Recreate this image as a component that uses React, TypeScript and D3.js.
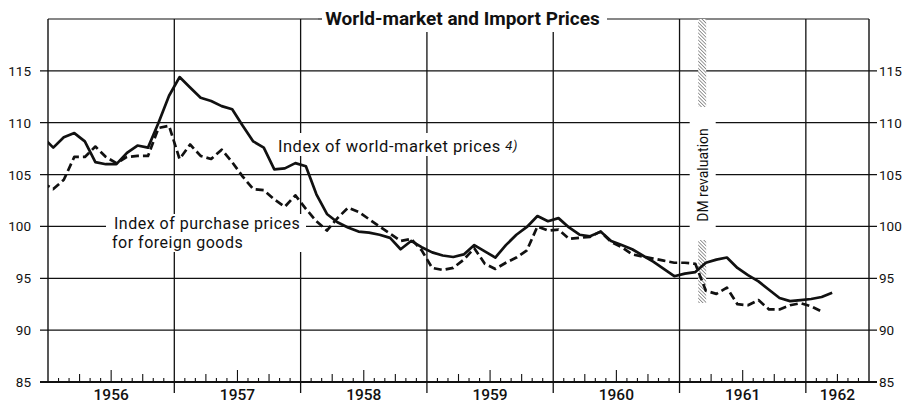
import React from "react";
import * as d3 from "d3";

// Monthly series, first value = Dec 1955 (month index -1)
const startMonth = -1;
const worldMarket = [
  108.6, 107.6, 108.6, 109.0, 108.2, 106.2, 106.0, 106.0, 107.1, 107.8, 107.6, 110.0, 112.6,
  114.4, 113.4, 112.4, 112.1, 111.6, 111.3, 109.7, 108.2, 107.6, 105.5, 105.6, 106.1,
  105.8, 103.1, 101.2, 100.4, 99.9, 99.5, 99.4, 99.2, 98.9, 97.8, 98.6, 98.0,
  97.5, 97.2, 97.05, 97.3, 98.2, 97.6, 97.0, 98.2, 99.2, 99.95, 101.0, 100.5,
  100.8, 99.9, 99.2, 99.05, 99.5, 98.6, 98.2, 97.8, 97.2, 96.6, 95.9, 95.2,
  95.45, 95.6, 96.5, 96.8, 97.0, 96.0, 95.3, 94.7, 93.9, 93.1, 92.8, 92.9,
  93.0, 93.2, 93.6,
];
const purchasePrices = [
  104.2, 103.6, 104.5, 106.7, 106.7, 107.7, 106.7, 106.1, 106.7, 106.8, 106.8, 109.5, 109.7,
  106.5, 107.9, 106.8, 106.5, 107.4, 106.2, 104.8, 103.6, 103.5, 102.6, 101.9, 103.0,
  101.7, 100.5, 99.6, 100.8, 101.8, 101.4, 100.7, 100.0, 99.3, 98.6, 98.8, 97.7,
  96.0, 95.8, 96.0, 96.8, 97.9, 96.4, 95.9, 96.5, 97.0, 97.7, 100.0, 99.6,
  99.7, 98.8, 98.9, 99.0, 99.5, 98.5, 98.0, 97.3, 97.1, 96.9, 96.7, 96.5,
  96.5, 96.4, 93.8, 93.5, 94.1, 92.5, 92.4, 92.9, 92.0, 92.0, 92.4, 92.6,
  92.3, 91.8,
];
const yearLabels = ["1956", "1957", "1958", "1959", "1960", "1961", "1962"];
const yTicks = [85, 90, 95, 100, 105, 110, 115];
const totalMonths = 78; // Jan 1956 .. Jun 1962
const revaluationMonth = 62.2; // early March 1961

const W = 909;
const H = 405;
const L = 48, R = 869, T = 19, B = 382;
const FONT = "Roboto, 'DejaVu Sans', sans-serif";

export default function App() {
  const x = d3.scaleLinear().domain([0, totalMonths]).range([L, R]);
  const y = d3.scaleLinear().domain([85, 120]).range([B, T]);
  const line = d3
    .line<number>()
    .x((_, i) => x(startMonth + i + 0.5))
    .y((d) => y(d));

  const monthTicks = d3.range(1, totalMonths).filter((m) => m % 12 !== 0);
  const yearBounds = d3.range(12, totalMonths, 12);
  const rx = x(revaluationMonth);

  return (
    <svg width={W} height={H} style={{ position: "absolute", left: 0, top: 0, background: "#fff" }}>
      <defs>
        <clipPath id="plot">
          <rect x={L} y={T} width={R - L} height={B - T} />
        </clipPath>
        <pattern id="hatch" width="2.5" height="2.5" patternUnits="userSpaceOnUse" patternTransform="rotate(-45)">
          <rect width="2.5" height="2.5" fill="#fff" />
          <line x1="0" y1="0" x2="0" y2="2.5" stroke="#444" strokeWidth="1.1" />
        </pattern>
      </defs>
      <rect x={0} y={0} width={W} height={H} fill="#fff" />

      {/* horizontal grid lines + ticks both sides */}
      {yTicks.map((v) => (
        <line key={"g" + v} x1={L - 8} x2={R + 8} y1={y(v)} y2={y(v)} stroke="#111" strokeWidth={v === 85 ? 2 : 1.2} />
      ))}
      {/* borders */}
      <line x1={L} x2={R} y1={T} y2={T} stroke="#111" strokeWidth={1.2} />
      <line x1={L} x2={L} y1={T} y2={B} stroke="#111" strokeWidth={1.4} />
      <line x1={R} x2={R} y1={T} y2={B} stroke="#111" strokeWidth={1.4} />
      {/* year boundaries */}
      {yearBounds.map((m) => (
        <line key={"yb" + m} x1={x(m)} x2={x(m)} y1={T} y2={B + 11} stroke="#111" strokeWidth={1.3} />
      ))}
      {/* month ticks */}
      {monthTicks.map((m) => (
        <line
          key={"mt" + m}
          x1={x(m)}
          x2={x(m)}
          y1={B}
          y2={B - (m % 6 === 0 ? 12 : m % 3 === 0 ? 8 : 4)}
          stroke="#111"
          strokeWidth={1.1}
        />
      ))}

      {/* y labels */}
      {yTicks.map((v) => (
        <g key={"yl" + v} fontFamily={FONT} fontSize={13.5} fill="#111">
          <text x={L - 17} y={y(v)} textAnchor="end" dominantBaseline="central">{v}</text>
          <text x={R + 10} y={y(v)} textAnchor="start" dominantBaseline="central">{v}</text>
        </g>
      ))}
      {/* year labels */}
      {yearLabels.map((lab, k) => {
        const s = k * 12;
        const e = Math.min(s + 12, totalMonths);
        return (
          <text key={lab} x={x((s + e) / 2)} y={400} textAnchor="middle" fontFamily={FONT} fontSize={15.5} fontWeight={500} fill="#111">
            {lab}
          </text>
        );
      })}

      {/* title */}
      <rect x={318} y={4} width={289} height={28} fill="#fff" />
      <line x1={318} x2={322} y1={T} y2={T} stroke="#111" strokeWidth={1.2} />
      <text x={462.5} y={25} textAnchor="middle" fontFamily={FONT} fontSize={19} fontWeight={700} fill="#111">
        World-market and Import Prices
      </text>

      {/* DM revaluation */}
      <rect x={rx - 13} y={108} width={26} height={128} fill="#fff" />
      <rect x={rx - 4.5} y={T} width={8} height={88} fill="url(#hatch)" />
      <rect x={rx - 4.5} y={240} width={8} height={63} fill="url(#hatch)" />
      <text
        transform={`translate(${rx},175) rotate(-90)`}
        textAnchor="middle"
        dominantBaseline="central"
        fontFamily={FONT}
        fontSize={14}
        fill="#111"
      >
        DM revaluation
      </text>

      {/* series labels */}
      <rect x={274} y={133} width={250} height={23} fill="#fff" />
      <text x={278} y={152} fontFamily={FONT} fontSize={16.5} letterSpacing={0.5} fill="#111">
        Index of world-market prices <tspan fontStyle="italic" fontSize={13} dy={-2}>4)</tspan>
      </text>
      <rect x={106} y={214} width={200} height={38} fill="#fff" />
      <text x={114} y={229} fontFamily={FONT} fontSize={16} letterSpacing={0.5} fill="#111">Index of purchase prices</text>
      <text x={112} y={247.5} fontFamily={FONT} fontSize={16} letterSpacing={0.5} fill="#111">for foreign goods</text>

      {/* series */}
      <g clipPath="url(#plot)">
        <path d={line(purchasePrices) || ""} fill="none" stroke="#111" strokeWidth={2.7} strokeDasharray="8 4" strokeLinejoin="round" />
        <path d={line(worldMarket) || ""} fill="none" stroke="#111" strokeWidth={2.7} strokeLinejoin="round" />
      </g>
    </svg>
  );
}
